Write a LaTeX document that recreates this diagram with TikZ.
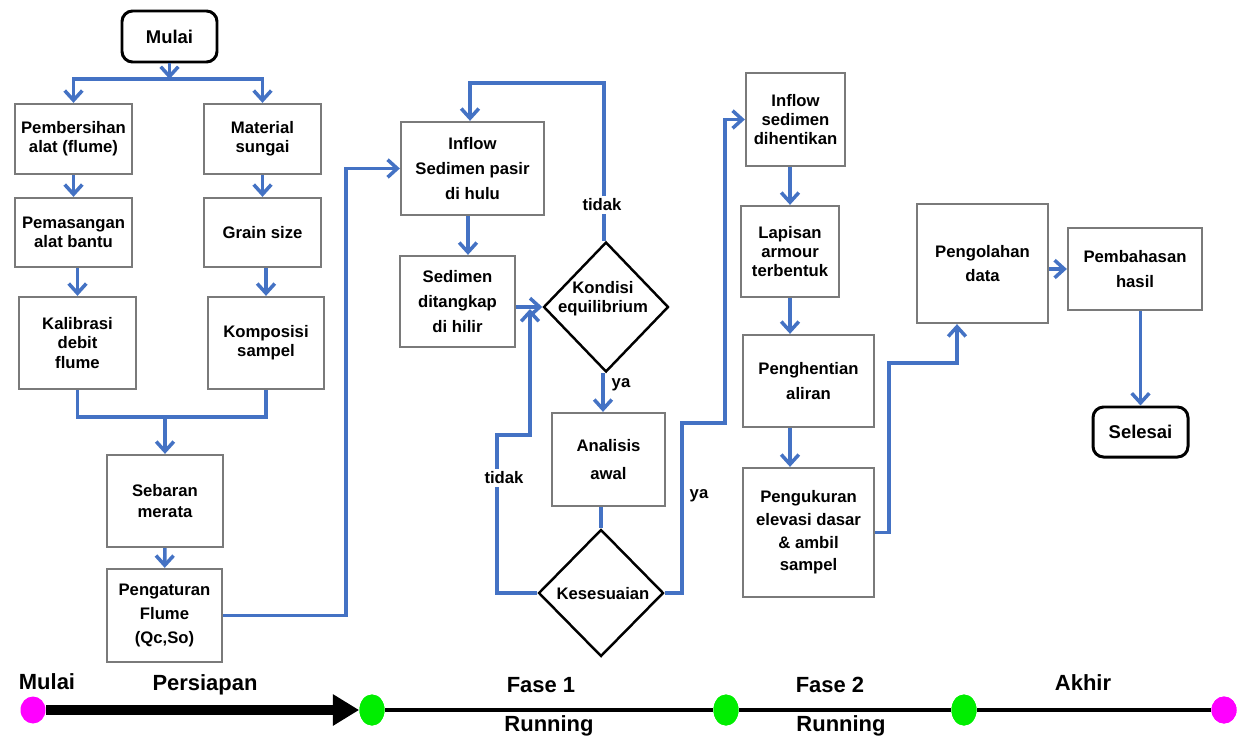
\documentclass[tikz,border=0pt]{standalone}
\usepackage{fontspec}
\setmainfont{Liberation Sans}
\usetikzlibrary{arrows.meta,shapes.geometric}
\definecolor{cblue}{HTML}{4472C4}
\definecolor{cgray}{HTML}{7A7A7A}
\definecolor{cmag}{HTML}{FF00FF}
\definecolor{cgreen}{HTML}{00EE00}
\begin{document}
\begin{tikzpicture}[x=0.02cm,y=-0.02cm,
  font=\fontsize{9.5}{10.9}\selectfont\bfseries,
  box/.style 2 args={draw=cgray, line width=1.3pt, fill=white, rectangle,
    minimum width=#1*0.02cm, minimum height=#2*0.02cm, inner sep=0pt, align=center},
  term/.style 2 args={draw=black, line width=1.7pt, rounded corners=6pt, fill=white,
    minimum width=#1*0.02cm, minimum height=#2*0.02cm, inner sep=0pt, align=center,
    font=\fontsize{10.5}{12}\selectfont\bfseries},
  dia/.style 2 args={draw=black, line width=1.4pt, diamond, fill=white,
    minimum width=#1*0.02cm, minimum height=#2*0.02cm, inner sep=0pt},
  txt/.style={align=center, inner sep=0pt},
  conn/.style={draw=cblue, line width=2pt},
  arr/.style={conn, -{Straight Barb[length=5.5pt,width=10pt]}},
  lbl/.style={fill=white, inner sep=1.5pt},
  tl/.style={font=\fontsize{12.5}{14}\selectfont\bfseries, inner sep=0pt},
  mdot/.style={ellipse, fill=cmag, minimum width=25*0.02cm, minimum height=27*0.02cm, inner sep=0pt},
  gdot/.style={ellipse, fill=cgreen, minimum width=25*0.02cm, minimum height=31*0.02cm, inner sep=0pt},
]
\fill[white] (0,0) rectangle (1239,740);
\useasboundingbox (0,0) rectangle (1239,740);

% ---------- left column ----------
\node[term={95}{51}] (mulai) at (169.5,36.5) {Mulai};
\node[box={117}{70}] (pemb) at (73.5,139) {Pembersihan\\alat (flume)};
\node[box={117}{70}] (mat) at (262.5,139) {Material\\sungai};
\node[box={117}{69}] (pemas) at (73.5,232.5) {Pemasangan\\alat bantu};
\node[box={117}{69}] (grain) at (262.5,232.5) {Grain size};
\node[box={117}{92}] (kal) at (77.5,343) {Kalibrasi\\debit\\flume};
\node[box={116}{92}] (komp) at (266,343) {Komposisi\\sampel};
\node[box={116}{92}] (seb) at (165,501) {Sebaran\\[1pt]merata};
\node[box={115}{93}] (peng) at (164.5,615.5) {Pengaturan\\[2.8pt]Flume\\[2.8pt](Qc,So)};

% ---------- phase 1 ----------
\node[box={143}{93}] (inflow) at (472.5,168.5) {Inflow\\[3.4pt]Sedimen pasir\\[3.4pt]di hulu};
\node[box={115}{91}] (sedt) at (457.5,301.5) {Sedimen\\[3.4pt]ditangkap\\[3.4pt]di hilir};
\node[dia={125}{130}] (kond) at (606,307) {};
\node[txt] (kondt) at (603,299) {Kondisi\\equilibrium};
\node[box={113}{93}] (anal) at (608.5,459.5) {Analisis\\[4.5pt]awal};
\node[dia={125}{127}] (kes) at (601,593) {};
\node[txt] (kest) at (603,594) {Kesesuaian};

% ---------- phase 2 ----------
\node[box={99}{93}] (inf2) at (795.5,119.5) {Inflow\\sedimen\\dihentikan};
\node[box={98}{91}] (lap) at (790,251.5) {Lapisan\\armour\\terbentuk};
\node[box={131}{92}] (phen) at (808.5,381) {Penghentian\\[2.8pt]aliran};
\node[box={131}{129}] (pukur) at (808.5,532.5) {Pengukuran\\[2pt]elevasi dasar\\[2pt]\& ambil\\[2pt]sampel};
\node[box={131}{119}] (polah) at (982.5,263.5) {Pengolahan\\[2.8pt]data};
\node[box={134}{82}] (pbhs) at (1135,269) {Pembahasan\\[2.8pt]hasil};
\node[term={95}{50}] (sel) at (1140.5,432) {Selesai};

% ---------- connectors ----------
\coordinate (br) at (169.5,79);
\draw[arr] (mulai.south) -- (br);
\draw[arr] (br) -| (pemb.north);
\draw[arr] (br) -| (mat.north);
\draw[arr] (pemb) -- (pemas);
\draw[arr] (mat) -- (grain);
\draw[arr] (pemas.south -| kal.north) -- (kal.north);
\draw[arr] (grain.south -| komp.north) -- (komp.north);
\coordinate (mg) at (165,417);
\draw[conn] (kal.south) |- (mg);
\draw[conn] (komp.south) |- (mg);
\draw[arr] (mg) -- (seb.north);
\draw[arr] (seb) -- (peng);
\draw[arr] (peng.east) -- ++(123,0) |- (inflow.west);

\draw[arr] (inflow.south -| 468,0) -- (468,0 |- sedt.north);
\draw[arr] (sedt.east |- kond.west) -- (kond.west);
\coordinate (t1) at (604,83);
\draw[arr] (kond.north -| t1) -- (t1) -| (inflow.north -| 470,0);
\node[lbl] (tidak1) at (602,205) {tidak};
\draw[arr] (kond.south -| 603,0) -- (603,0 |- anal.north);
\node[inner sep=0pt] (ya1) at (621,385) {ya};
\draw[conn] (kes.north |- anal.south) -- (kes.north);
\coordinate (t2a) at (497,435);
\coordinate (t2) at (530,309);
\draw[arr] (kes.west) -| (t2a) -| (t2);
\node[lbl] (tidak2) at (504,478) {tidak};
\coordinate (y2a) at (682,423);
\coordinate (y2b) at (725,423);
\draw[arr] (kes.east) -| (y2a) -- (y2b) |- (inf2.west);
\node[inner sep=0pt] (ya2) at (699,496) {ya};

\draw[arr] (lap.north |- inf2.south) -- (lap.north);
\draw[arr] (lap.south) -- (lap.south |- phen.north);
\draw[arr] (lap.south |- phen.south) -- (lap.south |- pukur.north);
\coordinate (p1) at (889,363);
\coordinate (p2) at (957,363);
\draw[arr] (pukur.east) -| (p1) -- (p2) -- (p2 |- polah.south);
\draw[arr] (polah.east |- pbhs.west) -- (pbhs.west);
\draw[arr] (sel.north |- pbhs.south) -- (sel.north);

% ---------- timeline ----------
\node[mdot] (d0) at (33,710) {};
\node[gdot] (d1) at (372,710) {};
\node[gdot] (d2) at (726,710) {};
\node[gdot] (d3) at (964,710) {};
\node[mdot] (d4) at (1224,710) {};
\draw[line width=5.7pt, -{Triangle[length=15pt,width=17pt]}] (d0) -- (d1);
\draw[line width=2.8pt] (d1) -- (d2) -- (d3) -- (d4);
\node[gdot] at (d1) {};
\node[gdot] at (d2) {};
\node[gdot] at (d3) {};
\node[mdot] at (d4) {};
\node[tl] (lMulai) at (47,682) {Mulai};
\node[tl] (lPers) at (205,685) {Persiapan};
\node[tl] (lF1) at (541,685) {Fase 1};
\node[tl] (lR1) at (549,726) {Running};
\node[tl] (lF2) at (830,685) {Fase 2};
\node[tl] (lR2) at (841,726) {Running};
\node[tl] (lAkh) at (1083,683) {Akhir};
\end{tikzpicture}
\end{document}
